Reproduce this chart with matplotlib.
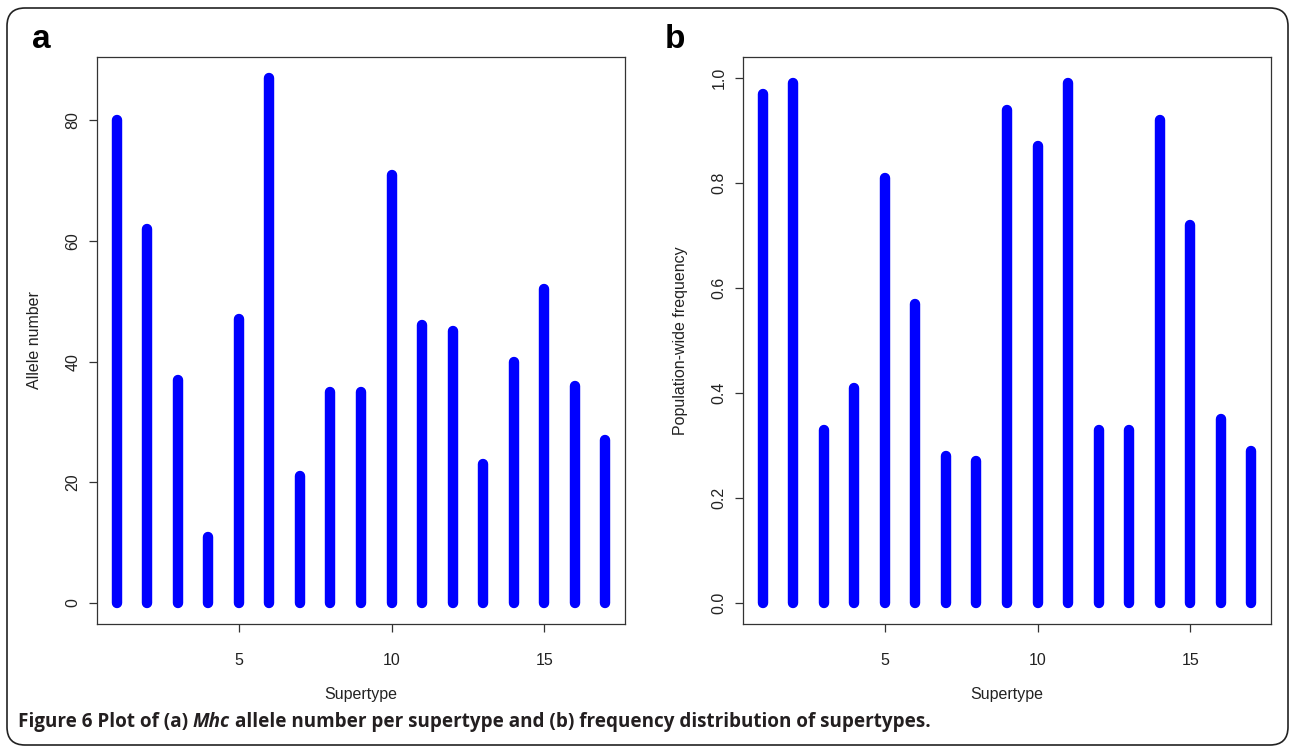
import matplotlib
matplotlib.use("Agg")
import matplotlib.pyplot as plt
from matplotlib.patches import FancyBboxPatch
import numpy as np

# ---- data ----
supertypes = list(range(1, 18))
allele_number = [80, 62, 37, 11, 47, 87, 21, 35, 35, 71, 46, 45, 23, 40, 52, 36, 27]
frequency = [0.97, 0.99, 0.33, 0.41, 0.81, 0.57, 0.28, 0.27, 0.94, 0.87, 0.99,
             0.33, 0.33, 0.92, 0.72, 0.35, 0.29]
yticks_a = [0, 20, 40, 60, 80]
yticks_b = [0.0, 0.2, 0.4, 0.6, 0.8, 1.0]
yticklabels_b = ["0.0", "0.2", "0.4", "0.6", "0.8", "1.0"]
yrange_b = (0.0, 1.0)
xticks = [5, 10, 15]
xlabel = "Supertype"
ylabel_a = "Allele number"
ylabel_b = "Population-wide frequency"
cap_pre = "Figure 6 Plot of (a) "
cap_it = "Mhc"
cap_post = " allele number per supertype and (b) frequency distribution of supertypes."

W, H = 1290, 750
fig = plt.figure(figsize=(W / 100, H / 100), dpi=100)
fig.patch.set_facecolor("white")

FONT = "Liberation Sans"
TXT = "#222222"
BLUE = "#0000FF"


def px_axes(left, top, right, bottom):
    return fig.add_axes([left / W, 1 - bottom / H, (right - left) / W, (bottom - top) / H])


def style_axes(ax, x, y, yticks, yticklabels, ylabel, yrange=None):
    ax.vlines(x, 0, y, colors=BLUE, linewidth=7.5, capstyle="round")
    n0, n1 = min(x), max(x)
    ext = 0.04 * (n1 - n0)
    ax.set_xlim(n0 - ext, n1 + ext)
    lo, hi = yrange if yrange is not None else (0, max(y))
    ax.set_ylim(lo - 0.04 * (hi - lo), hi + 0.04 * (hi - lo))
    ax.set_xticks(xticks)
    ax.set_xticklabels([str(t) for t in xticks], fontfamily=FONT, fontsize=11.5, color=TXT)
    ax.set_yticks(yticks)
    ax.set_yticklabels(yticklabels, fontfamily=FONT, fontsize=11.5, color=TXT,
                       rotation=90, va="center")
    ax.tick_params(axis="both", direction="out", length=5.8, width=0.9, color="#333333")
    ax.tick_params(axis="x", pad=15)
    ax.tick_params(axis="y", pad=6)
    for s in ax.spines.values():
        s.set_color("#333333")
        s.set_linewidth(0.9)
    ax.set_xlabel(xlabel, fontfamily=FONT, fontsize=11.5, color=TXT, labelpad=14)
    ax.set_ylabel(ylabel, fontfamily=FONT, fontsize=11.5, color=TXT, labelpad=17)


ax1 = px_axes(97, 57, 625, 624)
style_axes(ax1, supertypes, allele_number, yticks_a, [str(t) for t in yticks_a], ylabel_a)
ax2 = px_axes(743, 57, 1271, 624)
style_axes(ax2, supertypes, frequency, yticks_b, yticklabels_b, ylabel_b, yrange_b)

# panel letters
fig.text(32 / W, 1 - 48 / H, "a", fontfamily=FONT, fontweight="bold", fontsize=24,
         color="black", va="baseline", ha="left")
fig.text(665 / W, 1 - 48 / H, "b", fontfamily=FONT, fontweight="bold", fontsize=24,
         color="black", va="baseline", ha="left")

# outer rounded frame
frame = FancyBboxPatch((0.07, 0.05), 12.81, 7.37,
                       boxstyle="round,pad=0,rounding_size=0.18",
                       transform=fig.dpi_scale_trans, facecolor="none",
                       edgecolor="#222222", linewidth=1.2, zorder=0)
fig.patches.append(frame)

# caption (three pieces, positioned by measured widths)
CAP_FONT = "Open Sans"
CAP_SIZE = 13.6
CAP_COL = "#231F20"
cap_y = 1 - 727 / H
renderer = fig.canvas.get_renderer()
t1 = fig.text(18 / W, cap_y, cap_pre.rstrip(), fontfamily=CAP_FONT, fontweight="bold",
              fontsize=CAP_SIZE, color=CAP_COL, va="baseline", ha="left")
sp = fig.text(0, 0, "x x", fontfamily=CAP_FONT, fontweight="bold", fontsize=CAP_SIZE)
sx = fig.text(0, 0, "xx", fontfamily=CAP_FONT, fontweight="bold", fontsize=CAP_SIZE)
space_w = sp.get_window_extent(renderer).width - sx.get_window_extent(renderer).width
sp.remove()
sx.remove()
x2 = t1.get_window_extent(renderer).x1 + space_w
t2 = fig.text(x2 / W, cap_y, cap_it, fontfamily=CAP_FONT, fontweight="bold",
              fontstyle="italic", fontsize=CAP_SIZE, color=CAP_COL, va="baseline", ha="left")
x3 = t2.get_window_extent(renderer).x1 + space_w
fig.text(x3 / W, cap_y, cap_post.lstrip(), fontfamily=CAP_FONT, fontweight="bold",
         fontsize=CAP_SIZE, color=CAP_COL, va="baseline", ha="left")

fig.savefig("out.png", dpi=100, facecolor="white")
